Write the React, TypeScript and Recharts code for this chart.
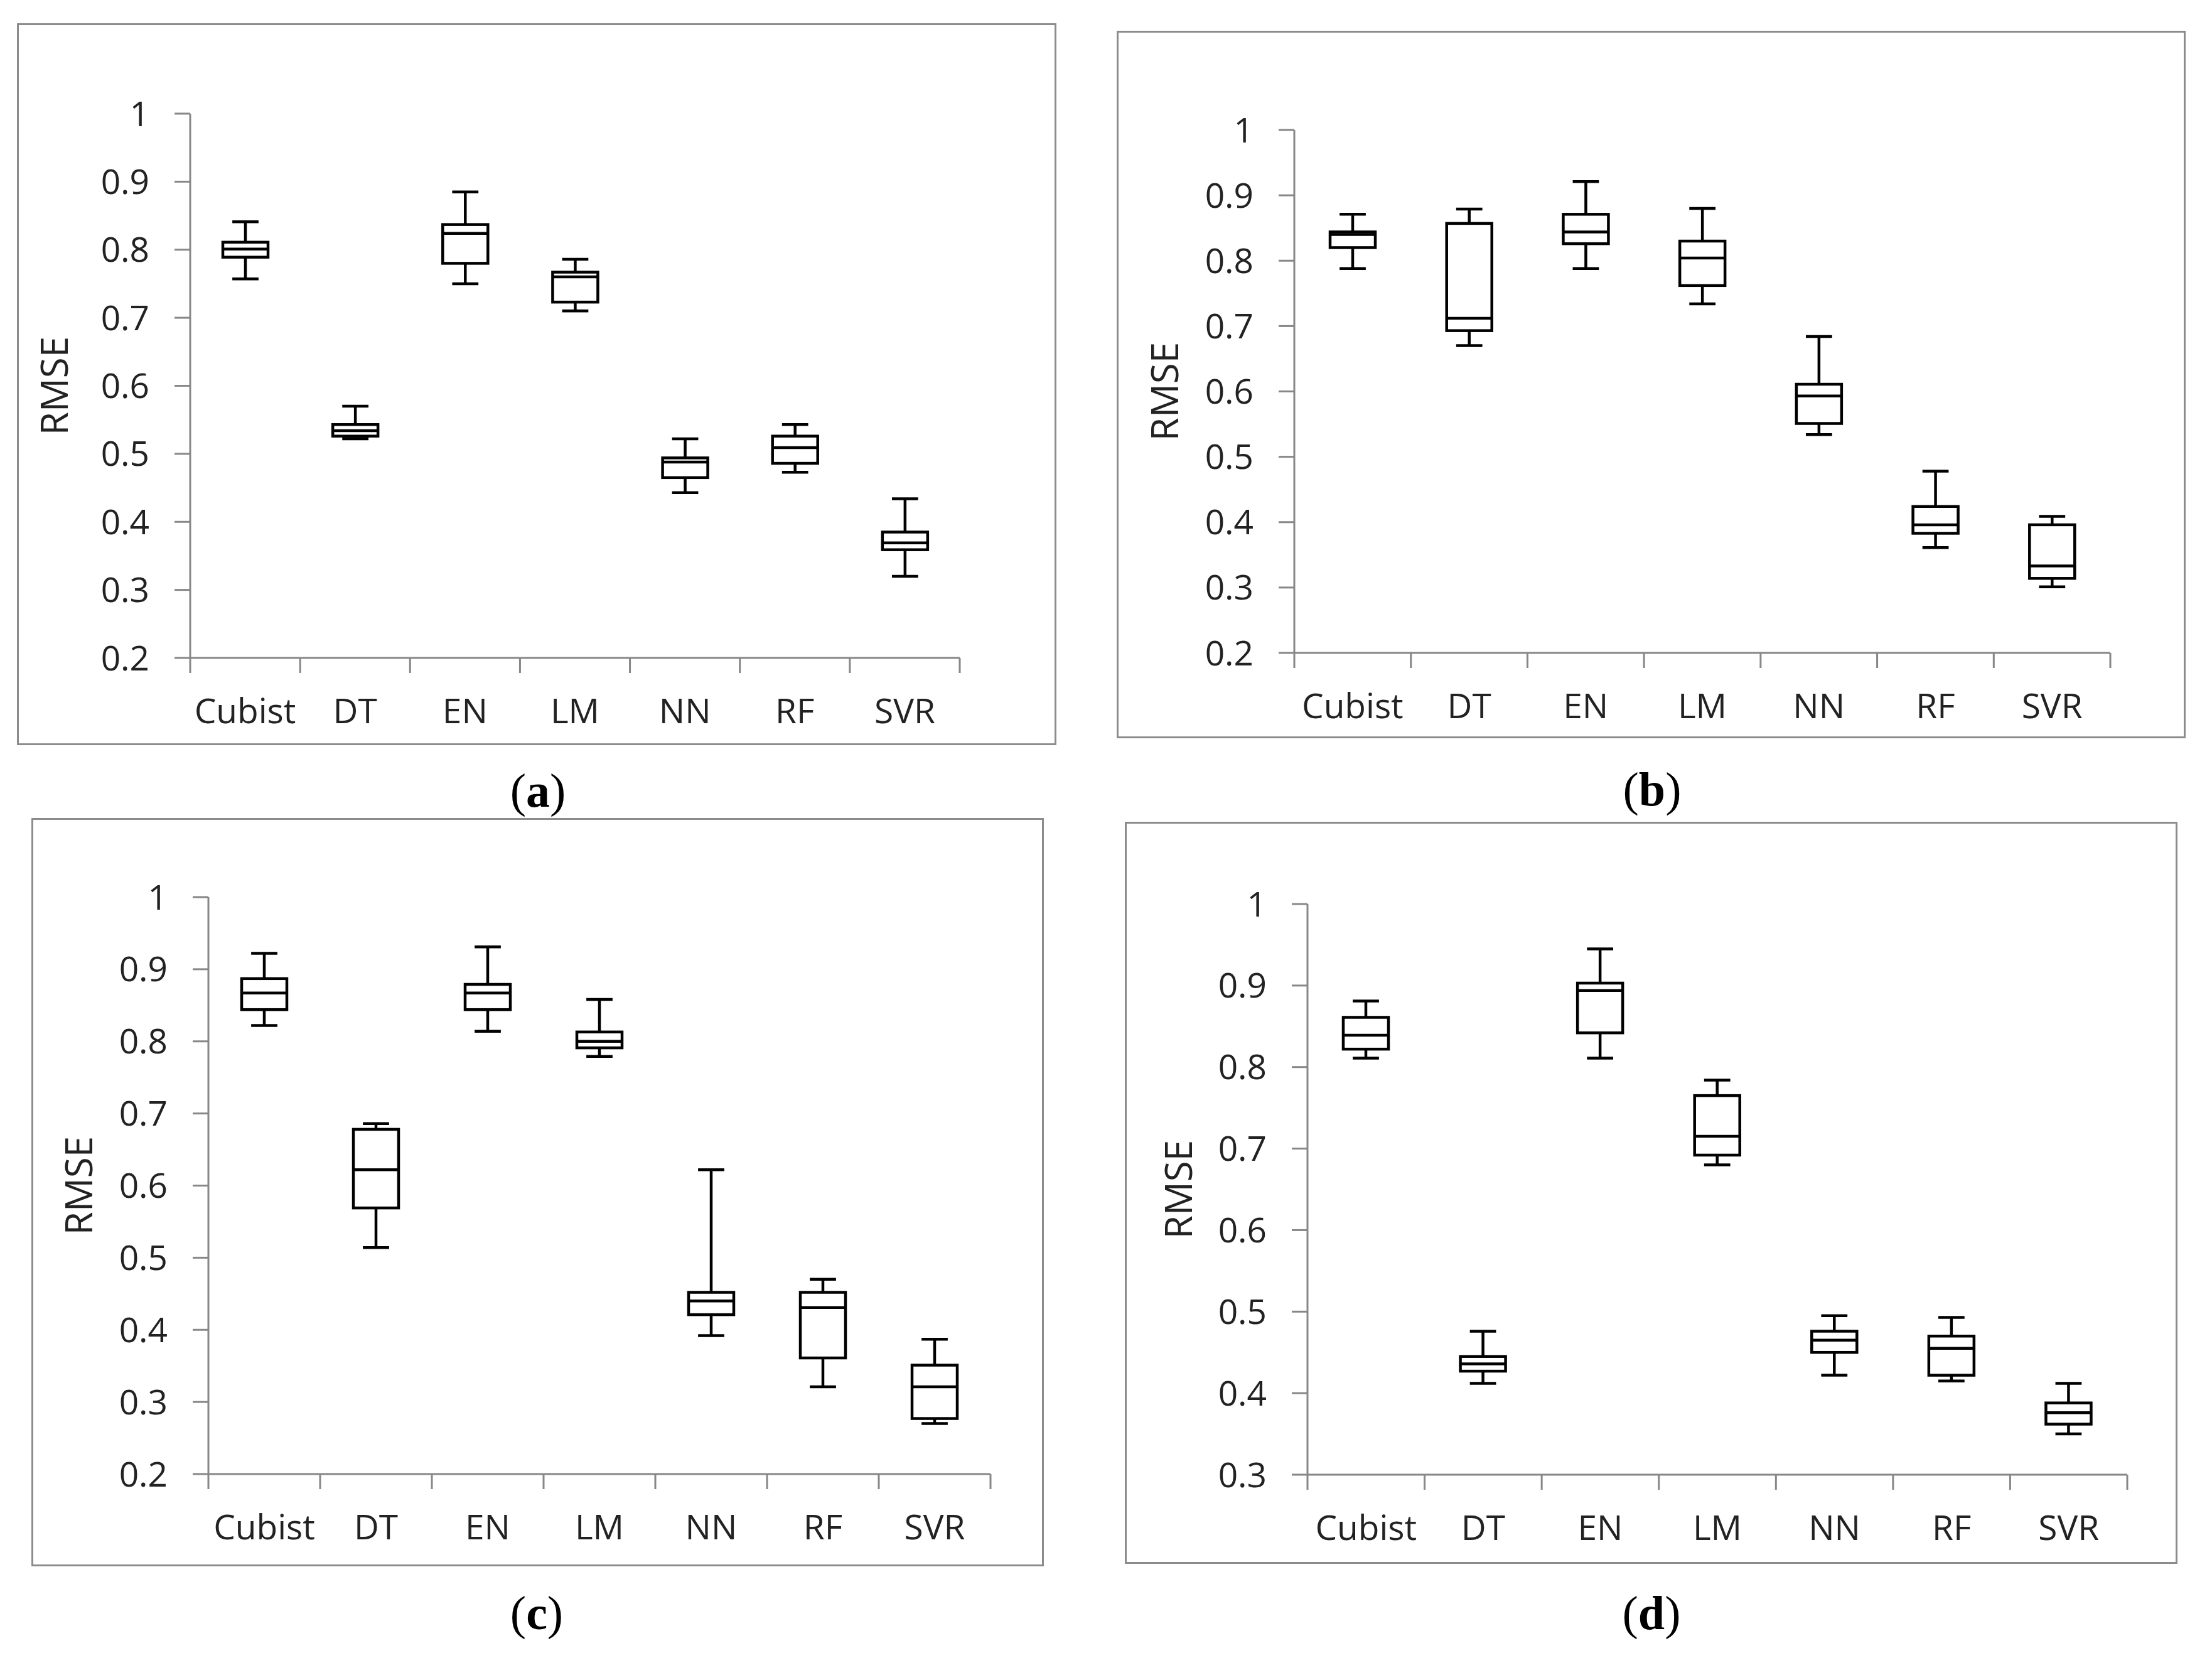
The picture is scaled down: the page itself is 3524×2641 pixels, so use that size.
import React from "react";
import { Bar, ComposedChart, XAxis, YAxis } from "recharts";

const models = ["Cubist", "DT", "EN", "LM", "NN", "RF", "SVR"];

// (a)
const maxA = [0.841, 0.57, 0.885, 0.786, 0.522, 0.543, 0.434];
const q3A = [0.811, 0.543, 0.837, 0.767, 0.494, 0.526, 0.385];
const medA = [0.801, 0.534, 0.824, 0.76, 0.488, 0.509, 0.369];
const q1A = [0.789, 0.526, 0.78, 0.723, 0.465, 0.486, 0.359];
const minA = [0.757, 0.522, 0.75, 0.71, 0.443, 0.473, 0.32];

// (b)
const maxB = [0.871, 0.879, 0.921, 0.88, 0.684, 0.478, 0.409];
const q3B = [0.844, 0.857, 0.871, 0.83, 0.611, 0.424, 0.396];
const medB = [0.84, 0.712, 0.844, 0.804, 0.593, 0.396, 0.333];
const q1B = [0.82, 0.693, 0.826, 0.762, 0.551, 0.383, 0.314];
const minB = [0.788, 0.67, 0.788, 0.734, 0.534, 0.361, 0.301];

// (c)
const maxC = [0.922, 0.686, 0.931, 0.858, 0.622, 0.47, 0.387];
const q3C = [0.887, 0.678, 0.879, 0.813, 0.452, 0.452, 0.351];
const medC = [0.867, 0.622, 0.867, 0.8, 0.44, 0.431, 0.321];
const q1C = [0.844, 0.569, 0.844, 0.791, 0.421, 0.361, 0.277];
const minC = [0.822, 0.514, 0.814, 0.779, 0.392, 0.321, 0.27];

// (d)
const maxD = [0.881, 0.476, 0.945, 0.784, 0.495, 0.493, 0.412];
const q3D = [0.861, 0.445, 0.903, 0.765, 0.476, 0.47, 0.388];
const medD = [0.839, 0.436, 0.894, 0.715, 0.465, 0.455, 0.376];
const q1D = [0.822, 0.427, 0.842, 0.692, 0.45, 0.422, 0.362];
const minD = [0.811, 0.412, 0.811, 0.68, 0.422, 0.415, 0.35];

const ticksFrom02 = [0.2, 0.3, 0.4, 0.5, 0.6, 0.7, 0.8, 0.9, 1];
const ticksFrom03 = [0.3, 0.4, 0.5, 0.6, 0.7, 0.8, 0.9, 1];

const FONT = "'Open Sans', 'Liberation Sans', sans-serif";
const TEXT = "#222";
const AXIS = "#878787";
const Y_AXIS_W = 230;
const X_AXIS_H = 120;

type Box = { min: number[]; q1: number[]; med: number[]; q3: number[]; max: number[] };

function buildRows(b: Box) {
  return models.map((name, i) => ({
    name,
    min: b.min[i],
    q1: b.q1[i],
    med: b.med[i],
    q3: b.q3[i],
    max: b.max[i],
    box: [b.q1[i], b.q3[i]],
  }));
}

// frame = outer grey border, plot = axis area (page pixels)
const panels = [
  {
    id: "a",
    box: { min: minA, q1: q1A, med: medA, q3: q3A, max: maxA },
    domain: [0.2, 1],
    ticks: ticksFrom02,
    frame: { l: 27, t: 37, r: 1683, b: 1187 },
    plot: { l: 303, t: 181, r: 1529, b: 1048 },
    labelGap: 216,
    caption: { x: 857, y: 1285 },
  },
  {
    id: "b",
    box: { min: minB, q1: q1B, med: medB, q3: q3B, max: maxB },
    domain: [0.2, 1],
    ticks: ticksFrom02,
    frame: { l: 1779, t: 49, r: 3482, b: 1176 },
    plot: { l: 2062, t: 207, r: 3362, b: 1040 },
    labelGap: 206,
    caption: { x: 2632, y: 1283 },
  },
  {
    id: "c",
    box: { min: minC, q1: q1C, med: medC, q3: q3C, max: maxC },
    domain: [0.2, 1],
    ticks: ticksFrom02,
    frame: { l: 50, t: 1303, r: 1663, b: 2495 },
    plot: { l: 332, t: 1429, r: 1578, b: 2348 },
    labelGap: 206,
    caption: { x: 855, y: 2595 },
  },
  {
    id: "d",
    box: { min: minD, q1: q1D, med: medD, q3: q3D, max: maxD },
    domain: [0.3, 1],
    ticks: ticksFrom03,
    frame: { l: 1792, t: 1309, r: 3469, b: 2491 },
    plot: { l: 2083, t: 1440, r: 3389, b: 2349 },
    labelGap: 205,
    caption: { x: 2631, y: 2595 },
  },
];

// box drawn from the bar rectangle of the [q1, q3] range bar
function BoxShape(props: any) {
  const { x, y, width, height } = props;
  const d = props.payload ?? props;
  if (!height || d == null) return null;
  const k = height / (d.q3 - d.q1);
  const py = (v: number) => y + (d.q3 - v) * k;
  const cx = x + width / 2;
  const cap = width * 0.58;
  return (
    <g stroke="#000" strokeWidth={4.5} fill="none">
      <line x1={cx} x2={cx} y1={py(d.max)} y2={y} />
      <line x1={cx} x2={cx} y1={y + height} y2={py(d.min)} />
      <line x1={cx - cap / 2} x2={cx + cap / 2} y1={py(d.max)} y2={py(d.max)} />
      <line x1={cx - cap / 2} x2={cx + cap / 2} y1={py(d.min)} y2={py(d.min)} />
      <rect x={x} y={y} width={width} height={height} fill="#fff" />
      <line x1={x} x2={x + width} y1={py(d.med)} y2={py(d.med)} />
    </g>
  );
}

function makeXTick(band: number) {
  return function XTick(props: any) {
    const { x, y, payload, index, visibleTicksCount } = props;
    const left = x - band / 2;
    return (
      <g>
        <line x1={left} x2={left} y1={y} y2={y + 24} stroke={AXIS} strokeWidth={3} />
        {index === visibleTicksCount - 1 && (
          <line x1={left + band} x2={left + band} y1={y} y2={y + 24} stroke={AXIS} strokeWidth={3} />
        )}
        <text x={x} y={y + 104} textAnchor="middle" fill={TEXT} fontSize={55} fontFamily={FONT}>
          {payload.value}
        </text>
      </g>
    );
  };
}

function Panel({ p }: { p: (typeof panels)[number] }) {
  const { frame, plot } = p;
  const w = frame.r - frame.l;
  const h = frame.b - frame.t;
  const margin = {
    left: plot.l - frame.l - Y_AXIS_W,
    top: plot.t - frame.t,
    right: frame.r - plot.r,
    bottom: frame.b - plot.b - X_AXIS_H,
  };
  const band = (plot.r - plot.l) / models.length;
  const XTick = makeXTick(band);
  return (
    <>
      <div
        style={{
          position: "absolute",
          left: frame.l,
          top: frame.t,
          width: w,
          height: h,
          boxSizing: "border-box",
          border: "3px solid #8c8c8c",
        }}
      />
      <div style={{ position: "absolute", left: frame.l, top: frame.t }}>
        <ComposedChart width={w} height={h} data={buildRows(p.box)} margin={margin}>
          <XAxis
            dataKey="name"
            type="category"
            interval={0}
            height={X_AXIS_H}
            axisLine={{ stroke: AXIS, strokeWidth: 3 }}
            tickLine={false}
            tickSize={0}
            tickMargin={0}
            tick={<XTick />}
          />
          <YAxis
            type="number"
            domain={p.domain}
            ticks={p.ticks}
            interval={0}
            allowDataOverflow
            width={Y_AXIS_W}
            axisLine={{ stroke: AXIS, strokeWidth: 3 }}
            tickLine={{ stroke: AXIS, strokeWidth: 3 }}
            tickSize={25}
            tickMargin={40}
            tick={{ fill: TEXT, fontSize: 55, fontFamily: FONT }}
            tickFormatter={(v: number) => (v === 1 ? "1" : v.toFixed(1))}
            label={{
              value: "RMSE",
              angle: -90,
              position: "insideLeft",
              offset: Y_AXIS_W - p.labelGap,
              style: { textAnchor: "middle", fill: TEXT, fontSize: 60, fontFamily: FONT },
            }}
          />
          <Bar dataKey="box" barSize={72} isAnimationActive={false} shape={BoxShape} />
        </ComposedChart>
      </div>
    </>
  );
}

export default function App() {
  return (
    <div
      style={{
        position: "absolute",
        left: 0,
        top: 0,
        width: 3524,
        height: 2641,
        background: "#fff",
        overflow: "hidden",
      }}
    >
      {panels.map((p) => (
        <Panel key={p.id} p={p} />
      ))}
      <svg width={3524} height={2641} style={{ position: "absolute", left: 0, top: 0, pointerEvents: "none" }}>
        {panels.map((p) => (
          <text
            key={p.id}
            x={p.caption.x}
            y={p.caption.y}
            textAnchor="middle"
            fontSize={76}
            fontFamily="'Liberation Serif', 'DejaVu Serif', serif"
            fill="#000"
          >
            (<tspan fontWeight="bold">{p.id}</tspan>)
          </text>
        ))}
      </svg>
    </div>
  );
}
